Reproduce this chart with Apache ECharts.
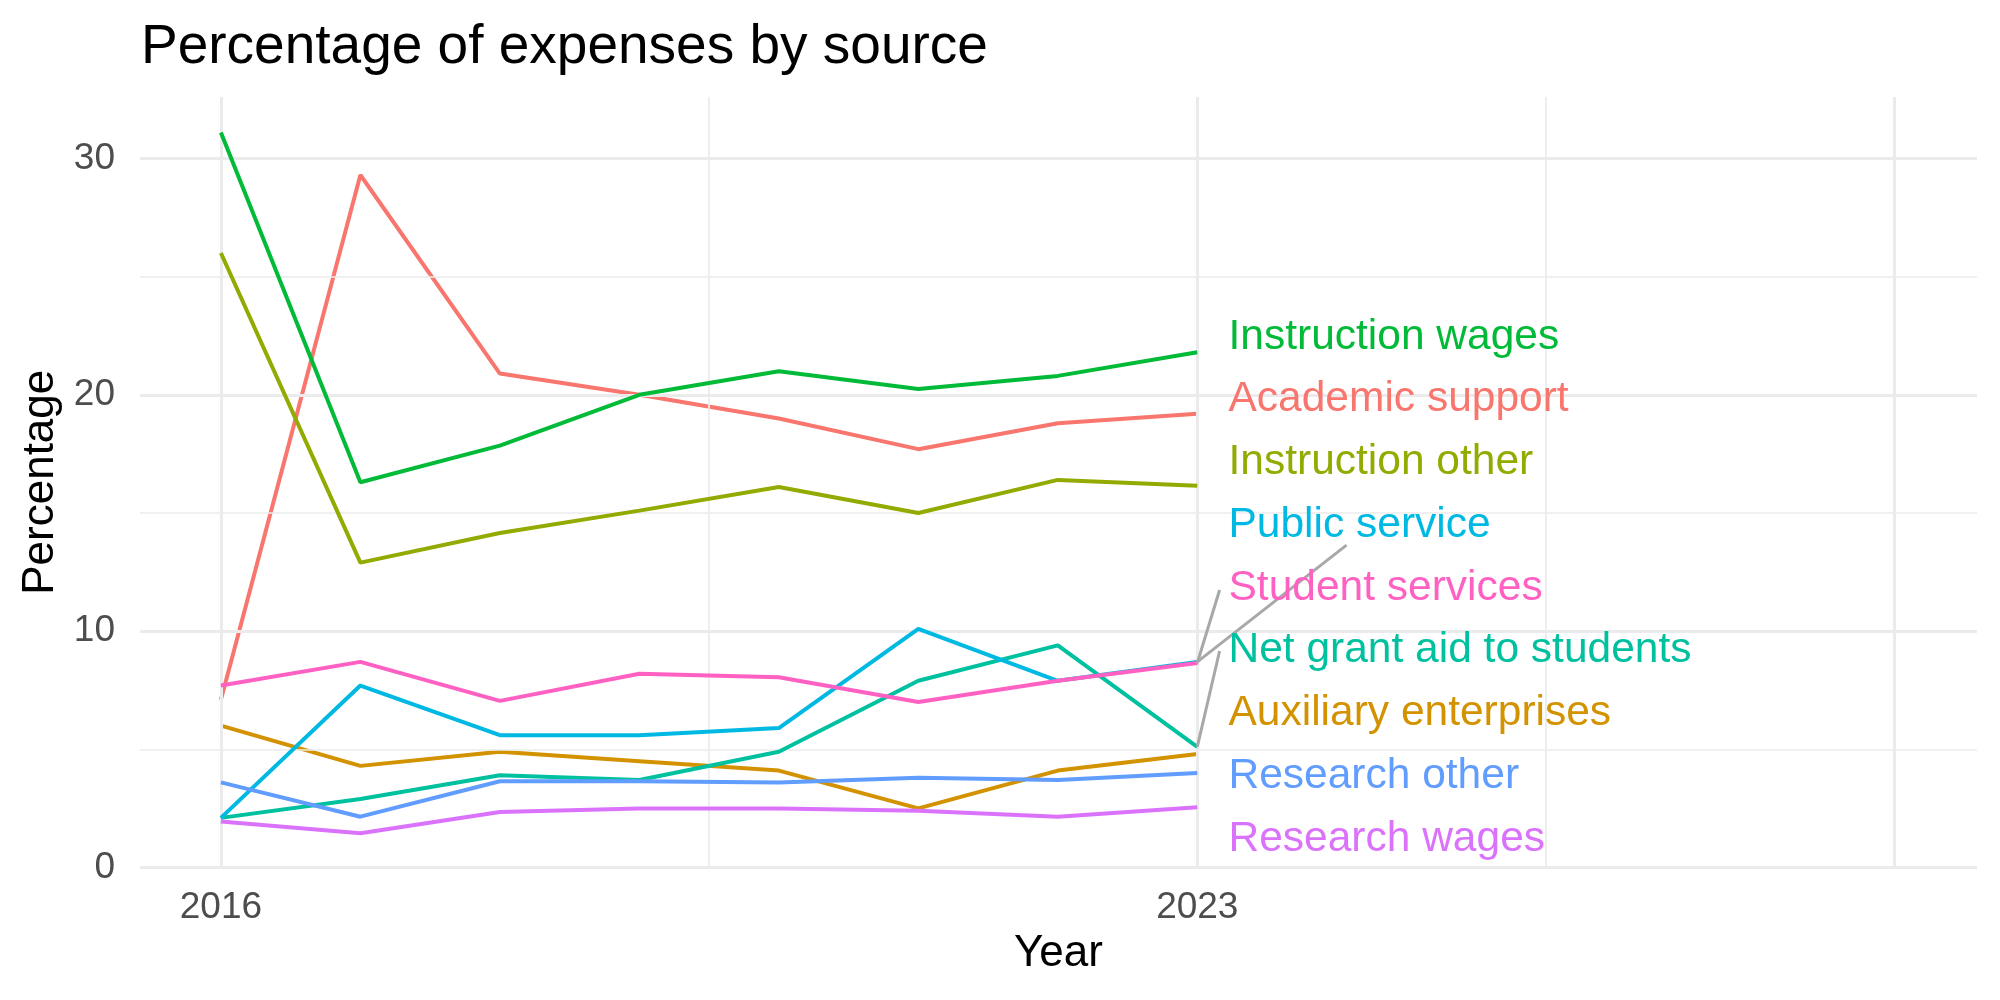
<!DOCTYPE html>
<html>
<head>
<meta charset="utf-8">
<script src="https://cdn.jsdelivr.net/npm/echarts@6/dist/echarts.min.js"></script>
<style>
    html, body { margin: 0; padding: 0; background: #fff; }
    #chart { width: 2000px; height: 1000px; }
</style>
</head>
<body>
<div id="chart"></div>
<script>
// data
var years = [2016, 2017, 2018, 2019, 2020, 2021, 2022, 2023];
var sources = ['Academic support', 'Auxiliary enterprises', 'Instruction other', 'Instruction wages',
    'Net grant aid to students', 'Public service', 'Research other', 'Research wages', 'Student services'];
var academicSupport = [7.1, 29.3, 20.9, 20.0, 19.0, 17.7, 18.8, 19.2];
var auxiliaryEnterprises = [6.0, 4.3, 4.9, 4.5, 4.1, 2.5, 4.1, 4.8];
var instructionOther = [26.0, 12.9, 14.15, 15.1, 16.1, 15.0, 16.4, 16.15];
var instructionWages = [31.1, 16.3, 17.85, 20.0, 21.0, 20.25, 20.8, 21.8];
var netGrantAid = [2.1, 2.9, 3.9, 3.7, 4.9, 7.9, 9.4, 5.1];
var publicService = [2.1, 7.7, 5.6, 5.6, 5.9, 10.1, 7.9, 8.7];
var researchOther = [3.6, 2.15, 3.65, 3.65, 3.6, 3.8, 3.7, 4.0];
var researchWages = [1.95, 1.45, 2.35, 2.5, 2.5, 2.4, 2.15, 2.55];
var studentServices = [7.7, 8.7, 7.05, 8.2, 8.05, 7.0, 7.9, 8.65];
var yTicks = [0, 10, 20, 30];
var xTicks = [2016, 2023];

var values = [academicSupport, auxiliaryEnterprises, instructionOther, instructionWages,
    netGrantAid, publicService, researchOther, researchWages, studentServices];
// ggplot hue palette
var colors = ['#F8766D', '#D39200', '#93AA00', '#00BA38', '#00C19F', '#00B9E3', '#619CFF', '#DB72FB', '#FF61C3'];

var font = 'Liberation Sans, Arial, sans-serif';
var gridMajor = '#EBEBEB';

// gridlines drawn as marklines (ggplot minimal theme)
function gl(axis, v, w) {
    var d = { lineStyle: { color: gridMajor, width: w, type: 'solid' } };
    d[axis] = v;
    return d;
}
var gridLines = [
    gl('yAxis', 0, 3), gl('yAxis', 10, 3), gl('yAxis', 20, 3), gl('yAxis', 30, 3),
    gl('yAxis', 5, 1.7), gl('yAxis', 15, 1.7), gl('yAxis', 25, 1.7),
    gl('xAxis', 2016, 3), gl('xAxis', 2023, 3), gl('xAxis', 2028, 3),
    gl('xAxis', 2019.5, 1.7), gl('xAxis', 2025.5, 1.7)
];

var series = [{
    type: 'line',
    data: [],
    z: 1,
    silent: true,
    markLine: { symbol: 'none', silent: true, label: { show: false }, animation: false, data: gridLines }
}];

sources.forEach(function(name, i) {
    series.push({
        name: name,
        type: 'line',
        data: years.map(function(y, j) { return [y, values[i][j]]; }),
        symbol: 'none',
        lineStyle: { color: colors[i], width: 4 },
        itemStyle: { color: colors[i] },
        z: 3 + i
    });
});

// labels at the right, stacked in order of the 2023 value
var order = sources.map(function(n, i) { return i; }).sort(function(a, b) {
    return values[b][7] - values[a][7];
});
var labelTop = 22.45, labelStep = 2.655, labelX = 2023.22;
var labelData = order.map(function(i, k) {
    return {
        name: sources[i],
        value: [labelX, labelTop - k * labelStep],
        label: { color: colors[i] }
    };
});

// repel segments for the crowded labels
var segments = [
    [[2023, publicService[7]], [2024.07, 13.64]],
    [[2023, studentServices[7]], [2023.16, 11.74]],
    [[2023, netGrantAid[7]], [2023.16, 9.16]]
];
segments.forEach(function(s) {
    series.push({
        type: 'line',
        data: s,
        symbol: 'none',
        silent: true,
        lineStyle: { color: '#A8A8A8', width: 3 },
        z: 20
    });
});

series.push({
    type: 'scatter',
    data: labelData,
    symbolSize: 1,
    itemStyle: { color: 'rgba(0,0,0,0)', opacity: 1 },
    silent: true,
    z: 30,
    label: {
        show: true,
        position: 'right',
        distance: 0,
        formatter: '{b}',
        fontFamily: font,
        fontSize: 42.5,
        opacity: 1
    }
});

var chart = echarts.init(document.getElementById('chart'));
chart.setOption({
    animation: false,
    backgroundColor: '#fff',
    title: {
        text: 'Percentage of expenses by source',
        left: 136,
        top: 15,
        textStyle: { fontFamily: font, fontSize: 55, fontWeight: 'normal', color: '#000' }
    },
    grid: { left: 140, right: 23, top: 97, bottom: 132.5 },
    xAxis: {
        type: 'value',
        min: 2015.42,
        max: 2028.59,
        name: 'Year',
        nameLocation: 'middle',
        nameGap: 63,
        nameTextStyle: { fontFamily: font, fontSize: 44, color: '#000' },
        axisLine: { show: false },
        axisTick: { show: false },
        splitLine: { show: false },
        axisLabel: {
            customValues: xTicks,
            formatter: function(v) { return String(v); },
            margin: 22,
            fontFamily: font,
            fontSize: 37,
            color: '#4D4D4D'
        }
    },
    yAxis: {
        type: 'value',
        min: 0,
        max: 32.6,
        name: 'Percentage',
        nameLocation: 'middle',
        nameRotate: 90,
        nameGap: 74,
        nameTextStyle: { fontFamily: font, fontSize: 44, color: '#000' },
        axisLine: { show: false },
        axisTick: { show: false },
        splitLine: { show: false },
        axisLabel: {
            customValues: yTicks,
            margin: 25,
            fontFamily: font,
            fontSize: 37,
            color: '#4D4D4D'
        }
    },
    series: series
});
</script>
</body>
</html>
